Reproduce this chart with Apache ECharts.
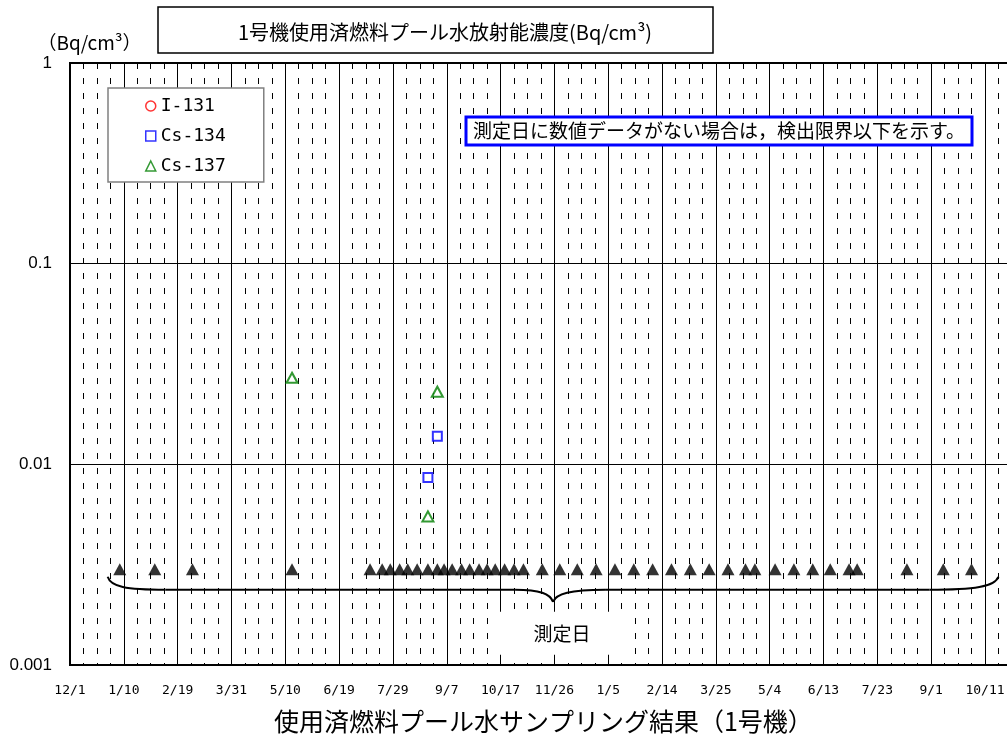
<!DOCTYPE html>
<html><head><meta charset="utf-8">
<script src="https://cdn.jsdelivr.net/npm/echarts@6/dist/echarts.min.js"></script>
<style>html,body{margin:0;padding:0;background:#fff}#c{width:1007px;height:740px}</style>
</head><body><div id="c"></div>
<script>
// ---- data ----
const axisStartDate = '2010-12-01';
const xTickLabels = ['12/1','1/10','2/19','3/31','5/10','6/19','7/29','9/7','10/17','11/26','1/5','2/14','3/25','5/4','6/13','7/23','9/1','10/11'];
const yTickLabels = ['0.001','0.01','0.1','1'];

const i131Dates = [];
const i131Values = [];
const cs134Dates = ['2011-08-24','2011-08-31'];
const cs134Values = [0.0086, 0.0138];
const cs137Dates = ['2011-05-15','2011-08-24','2011-08-31'];
const cs137Values = [0.027, 0.0055, 0.023];

const measureDates = ['2011-01-07','2011-02-02','2011-03-02','2011-05-15','2011-07-12','2011-07-21','2011-07-27','2011-08-03','2011-08-09','2011-08-16','2011-08-24','2011-08-31','2011-09-05','2011-09-11','2011-09-18','2011-09-24','2011-10-01','2011-10-07','2011-10-13','2011-10-20','2011-10-27','2011-11-03','2011-11-17','2011-11-30','2011-12-13','2011-12-27','2012-01-10','2012-01-24','2012-02-07','2012-02-21','2012-03-06','2012-03-20','2012-04-03','2012-04-16','2012-04-23','2012-05-08','2012-05-22','2012-06-05','2012-06-18','2012-07-02','2012-07-08','2012-08-14','2012-09-10','2012-10-01'];
const measureLevel = 0.003;

const braceFrom = '2010-12-29';
const braceTo = '2012-10-21';
const braceLevel = 0.00237;

const titleText = '1号機使用済燃料プール水放射能濃度(Bq/cm³)';
const unitText = '（Bq/cm³）';
const xAxisTitle = '使用済燃料プール水サンプリング結果（1号機）';
const noteText = '測定日に数値データがない場合は，検出限界以下を示す。';
const braceLabel = '測定日';

// ---- helpers ----
function dayOf(s) {
  const a = s.split('-').map(Number), b = axisStartDate.split('-').map(Number);
  return Math.round((Date.UTC(a[0], a[1]-1, a[2]) - Date.UTC(b[0], b[1]-1, b[2])) / 864e5);
}
function pairs(dates, vals) { return dates.map((d, i) => [dayOf(d), vals[i]]); }

const CJK = 'Noto Sans CJK JP';
const chart = echarts.init(document.getElementById('c'), null, {renderer: 'canvas'});

const option = {
  animation: false,
  backgroundColor: '#fff',
  title: {
    text: titleText, left: 445, top: 22, textAlign: 'center', padding: 0,
    textStyle: {fontFamily: CJK, fontSize: 20, fontWeight: 'normal', color: '#000'}
  },
  legend: {
    orient: 'vertical', left: 108, top: 88, padding: [9, 38, 7, 37], itemGap: 12,
    itemWidth: 10, itemHeight: 10, backgroundColor: '#fff', borderColor: '#808080', borderWidth: 1.5,
    selectedMode: false,
    textStyle: {fontFamily: 'DejaVu Sans Mono', fontSize: 18, color: '#000'},
    data: [
      {name: 'I-131', icon: 'circle', itemStyle: {color: '#fff', borderColor: '#ff0000', borderWidth: 1.5}},
      {name: 'Cs-134', icon: 'rect', itemStyle: {color: '#fff', borderColor: '#0000ff', borderWidth: 1.5}},
      {name: 'Cs-137', icon: 'triangle', itemStyle: {color: '#fff', borderColor: '#008000', borderWidth: 1.5}}
    ]
  },
  grid: {
    left: 70, top: 63, width: 968.8, height: 602, outerBoundsMode: 'none',
    show: true, borderColor: '#000', borderWidth: 2, backgroundColor: 'transparent'
  },
  xAxis: {
    type: 'value', min: 0, max: 720, interval: 40,
    name: xAxisTitle, nameLocation: 'middle', nameGap: 44,
    nameTextStyle: {fontFamily: CJK, fontSize: 25, color: '#000', padding: [0, 22, 0, 0]},
    axisLine: {show: true, lineStyle: {color: '#000', width: 2}},
    axisTick: {show: false},
    minorTick: {show: false, splitNumber: 4},
    axisLabel: {
      interval: 0, margin: 19, color: '#000', fontFamily: 'DejaVu Sans Mono', fontSize: 13,
      formatter: v => (v % 40 === 0 && xTickLabels[v / 40]) || ''
    },
    splitLine: {show: true, lineStyle: {color: '#000', width: 1}},
    minorSplitLine: {show: true, lineStyle: {color: '#000', width: 1, type: [6, 9]}}
  },
  yAxis: {
    type: 'log', logBase: 10, min: 0.001, max: 1,
    name: unitText, nameLocation: 'end', nameGap: 11,
    nameTextStyle: {fontFamily: CJK, fontSize: 19, color: '#000', align: 'center', verticalAlign: 'bottom', padding: [0, 0, 0, 39]},
    axisLine: {show: true, lineStyle: {color: '#000', width: 2}},
    axisTick: {show: false},
    axisLabel: {
      margin: 18, color: '#000', fontFamily: 'Liberation Sans', fontSize: 17, padding: [8, 0, 0, 0],
      formatter: v => yTickLabels[Math.round(Math.log10(v)) + 3]
    },
    splitLine: {show: true, lineStyle: {color: '#000', width: 1}}
  },
  series: [
    {name: 'I-131', type: 'scatter', symbol: 'circle', symbolSize: 9,
      itemStyle: {color: '#fff', borderColor: '#ff0000', borderWidth: 2}, data: pairs(i131Dates, i131Values)},
    {name: 'Cs-134', type: 'scatter', symbol: 'rect', symbolSize: 9, z: 4,
      itemStyle: {color: '#fff', borderColor: '#0000ff', borderWidth: 2}, data: pairs(cs134Dates, cs134Values)},
    {name: 'Cs-137', type: 'scatter', symbol: 'triangle', symbolSize: [11, 10], z: 4,
      itemStyle: {color: '#fff', borderColor: '#008000', borderWidth: 2}, data: pairs(cs137Dates, cs137Values)},
    {name: braceLabel, type: 'scatter', symbol: 'triangle', symbolSize: [13, 12], z: 3,
      itemStyle: {color: '#000'}, data: measureDates.map(d => [dayOf(d), measureLevel])}
  ]
};
chart.setOption(option);

// annotations positioned through the chart's own scales
const p0 = chart.convertToPixel({gridIndex: 0}, [dayOf(braceFrom), braceLevel]);
const p1 = chart.convertToPixel({gridIndex: 0}, [dayOf(braceTo), braceLevel]);
const x0 = p0[0], x1 = p1[0], y = p0[1], xm = (x0 + x1) / 2;
const bs = {fill: 'none', stroke: '#000', lineWidth: 2};

chart.setOption({
  graphic: [
    {id: 'titleBox', type: 'rect', z: 10, shape: {x: 158, y: 7, width: 555, height: 46},
      style: {fill: 'none', stroke: '#000', lineWidth: 1.5}},
    {id: 'noteBox', type: 'rect', z: 10, shape: {x: 466, y: 117, width: 506, height: 28},
      style: {fill: '#fff', stroke: '#0000ff', lineWidth: 3}},
    {id: 'noteText', type: 'text', z: 11, x: 719, y: 131,
      style: {text: noteText, fill: '#000', font: `19px "${CJK}"`, textAlign: 'center', textVerticalAlign: 'middle'}},
    {id: 'b1', type: 'bezierCurve', z: 10, shape: {x1: x0, y1: y - 13, cpx1: x0 + 3, cpy1: y - 3, cpx2: x0 + 18, cpy2: y, x2: x0 + 58, y2: y}, style: bs},
    {id: 'b2', type: 'line', z: 10, shape: {x1: x0 + 58, y1: y, x2: xm - 38, y2: y}, style: bs},
    {id: 'b3', type: 'bezierCurve', z: 10, shape: {x1: xm - 38, y1: y, cpx1: xm - 13, cpy1: y, cpx2: xm - 3, cpy2: y + 4, x2: xm, y2: y + 12}, style: bs},
    {id: 'b4', type: 'bezierCurve', z: 10, shape: {x1: xm, y1: y + 12, cpx1: xm + 3, cpy1: y + 4, cpx2: xm + 17, cpy2: y, x2: xm + 52, y2: y}, style: bs},
    {id: 'b5', type: 'line', z: 10, shape: {x1: xm + 52, y1: y, x2: x1 - 69, y2: y}, style: bs},
    {id: 'b6', type: 'bezierCurve', z: 10, shape: {x1: x1 - 69, y1: y, cpx1: x1 - 24, cpy1: y, cpx2: x1 - 4, cpy2: y - 3, x2: x1, y2: y - 13}, style: bs},
    {id: 'braceBg', type: 'rect', z: 10, shape: {x: xm - 65, y: y + 22, width: 142, height: 43},
      style: {fill: '#fff', stroke: 'none'}},
    {id: 'braceText', type: 'text', z: 11, x: xm + 9, y: y + 44,
      style: {text: braceLabel, fill: '#000', font: `19px "${CJK}"`, textAlign: 'center', textVerticalAlign: 'middle'}}
  ]
});
</script></body></html>
